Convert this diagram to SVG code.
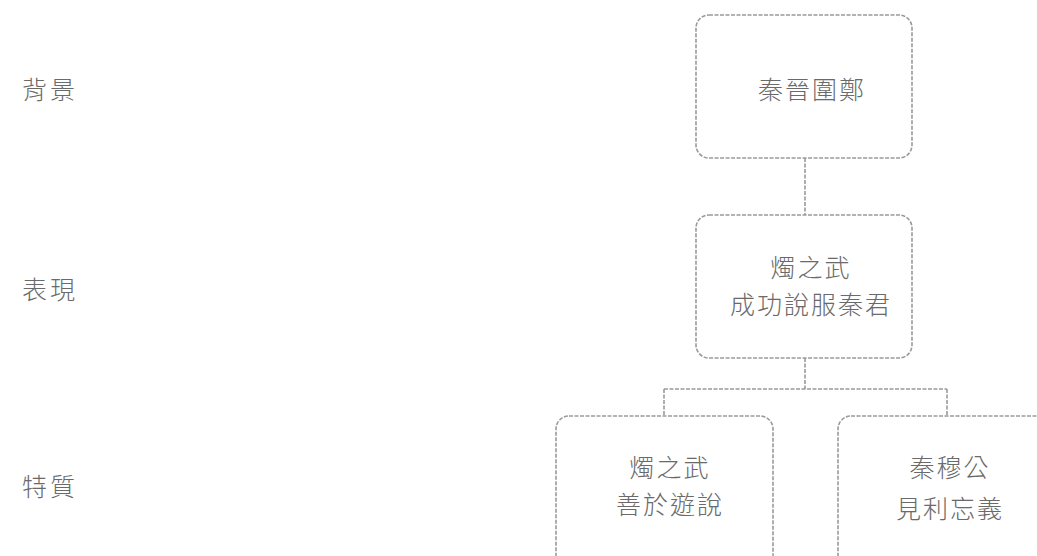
<svg xmlns="http://www.w3.org/2000/svg" width="1037" height="556" viewBox="0 0 1037 556">
<style>
.box{fill:#ffffff;stroke:#9a9a9a;stroke-width:1.6;stroke-dasharray:4 1.5}
.ln{fill:none;stroke:#9a9a9a;stroke-width:1.6;stroke-dasharray:4 1.5}
.t{font-family:"Noto Sans CJK TC","Noto Sans CJK SC",sans-serif;font-size:25px;font-weight:300;fill:#6a6a6a;text-anchor:middle;letter-spacing:2px}
.lbl{font-family:"Noto Sans CJK TC","Noto Sans CJK SC",sans-serif;font-size:25px;font-weight:300;fill:#6a6a6a;letter-spacing:3px}
</style>
<rect width="1037" height="556" fill="#ffffff"/>
<g id="labels">
<text class="lbl" x="22" y="99">背景</text>
<text class="lbl" x="22" y="299">表現</text>
<text class="lbl" x="22" y="496">特質</text>
</g>
<g id="connectors">
<path class="ln" d="M805 158 V215"/>
<path class="ln" d="M805 358 V389 M664 389 H947 M664 389 V416 M947 389 V416"/>
</g>
<g id="node-top">
<rect class="box" x="696" y="15" width="216" height="143" rx="13"/>
<text class="t" x="812" y="99">秦晉圍鄭</text>
</g>
<g id="node-mid">
<rect class="box" x="696" y="215" width="216" height="143" rx="13"/>
<text class="t" x="811" y="277">燭之武</text>
<text class="t" x="811" y="314">成功說服秦君</text>
</g>
<g id="node-left">
<rect class="box" x="556" y="416" width="217" height="160" rx="13"/>
<text class="t" x="670" y="477">燭之武</text>
<text class="t" x="670" y="514">善於遊說</text>
</g>
<g id="node-right">
<rect class="box" x="838" y="416" width="217" height="160" rx="13"/>
<text class="t" x="950" y="477">秦穆公</text>
<text class="t" x="950" y="518">見利忘義</text>
</g>
</svg>
